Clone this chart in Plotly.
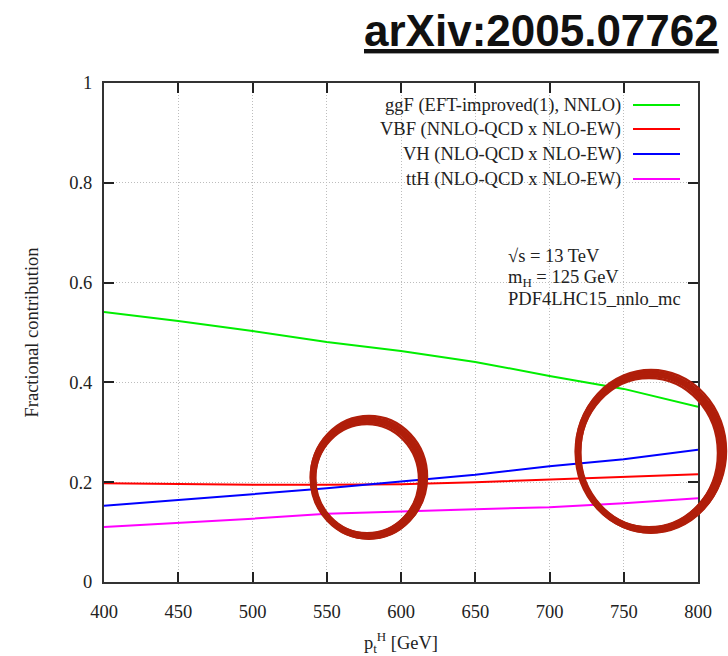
import plotly.graph_objects as go

# Transverse momentum of the Higgs boson [GeV]
pt = [400, 450, 500, 550, 600, 650, 700, 750, 800]

# Fractional contribution of each production mode
ggf = [0.541, 0.523, 0.503, 0.481, 0.463, 0.441, 0.413, 0.387, 0.351]
vbf = [0.198, 0.196, 0.195, 0.195, 0.196, 0.200, 0.205, 0.210, 0.216]
vh = [0.153, 0.164, 0.176, 0.188, 0.202, 0.215, 0.232, 0.246, 0.265]
tth = [0.110, 0.118, 0.127, 0.137, 0.142, 0.146, 0.150, 0.158, 0.168]

names = [
    "ggF (EFT-improved(1), NNLO)",
    "VBF (NNLO-QCD x NLO-EW)",
    "VH (NLO-QCD x NLO-EW)",
    "ttH (NLO-QCD x NLO-EW)",
]
series = [ggf, vbf, vh, tth]
colors = ["#00ee00", "#ff0000", "#0000ff", "#ff00ff"]

x_ticks = [400, 450, 500, 550, 600, 650, 700, 750, 800]
y_ticks = [0, 0.2, 0.4, 0.6, 0.8, 1]
y_ticktext = ["0", "0.2", "0.4", "0.6", "0.8", "1"]

SERIF = "Liberation Serif"
FS = 18.5
INK = "#222"

# Plot-area geometry in pixels (used for paper-coordinate decorations)
W, H = 728, 656
L, R, T, B = 104, 30, 83, 74
PW, PH = W - L - R, H - T - B


def px(x):
    return (x - L) / PW


def py(y):
    return (H - B - y) / PH


fig = go.Figure()
for name, ys, c in zip(names, series, colors):
    fig.add_trace(go.Scatter(x=pt, y=ys, mode="lines", name=name,
                             line=dict(color=c, width=2), showlegend=False))

shapes = []
annotations = []

# gnuplot-style key: right-aligned text followed by a line sample
key_rows = [105, 129, 154, 179]
for name, c, yr in zip(names, colors, key_rows):
    annotations.append(dict(x=px(623), y=py(yr), xref="paper", yref="paper",
                            text=name, showarrow=False, xanchor="right",
                            yanchor="middle",
                            font=dict(family=SERIF, size=FS, color=INK)))
    shapes.append(dict(type="line", xref="paper", yref="paper",
                       x0=px(633), x1=px(680), y0=py(yr), y1=py(yr),
                       line=dict(color=c, width=2)))

# Run conditions
info = ["√s = 13 TeV", "m<sub>H</sub> = 125 GeV", "PDF4LHC15_nnlo_mc"]
for txt, yr in zip(info, [256, 278, 299]):
    annotations.append(dict(x=px(506), y=py(yr), xref="paper", yref="paper",
                            text=txt, showarrow=False, xanchor="left",
                            yanchor="middle",
                            font=dict(family=SERIF, size=FS, color=INK)))

# arXiv reference
annotations.append(dict(x=px(721), y=py(31), xref="paper", yref="paper",
                        text="<b><u>arXiv:2005.07762</u></b>", showarrow=False,
                        xanchor="right", yanchor="middle",
                        font=dict(family="Liberation Sans", size=44,
                                  color="#111")))

# Hand-drawn highlight rings (several slightly offset strokes)
ring = "#b01e0a"
strokes = [(0, 0, 0, 7), (1, -1, 3, 2.5), (-1, 1, -3, 2.5),
           (1, 1, 2, 2), (-1, -1, -2, 2)]
for (cx, cy, rx, ry) in [(368, 478, 55, 58), (650, 452, 72, 78)]:
    for dx, dy, dr, w in strokes:
        shapes.append(dict(type="circle", xref="paper", yref="paper",
                           x0=px(cx + dx - rx - dr), x1=px(cx + dx + rx + dr),
                           y0=py(cy + dy + ry + dr), y1=py(cy + dy - ry - dr),
                           line=dict(color=ring, width=w), layer="above"))

fig.update_layout(
    width=W, height=H,
    margin=dict(l=L, r=R, t=T, b=B),
    paper_bgcolor="white", plot_bgcolor="white",
    shapes=shapes, annotations=annotations,
    font=dict(family=SERIF, size=FS, color=INK),
)

axis_common = dict(showline=True, linecolor="#333", linewidth=2,
                   mirror="allticks", ticks="inside", ticklen=10,
                   tickcolor="#222", tickwidth=1.5,
                   showgrid=True, gridcolor="#bdbdbd", griddash="1px,2px",
                   gridwidth=1, zeroline=False, automargin=False,
                   tickfont=dict(family=SERIF, size=FS, color=INK))

fig.update_xaxes(range=[400, 800], tickvals=x_ticks, ticklabelstandoff=12,
                 title=dict(text="p<sub>t</sub><sup>H</sup> [GeV]",
                            font=dict(family=SERIF, size=FS), standoff=22),
                 **axis_common)
fig.update_yaxes(range=[0, 1], tickvals=y_ticks, ticktext=y_ticktext,
                 ticklabelstandoff=6,
                 title=dict(text="Fractional contribution",
                            font=dict(family=SERIF, size=FS), standoff=26),
                 **axis_common)

fig.write_html("out.html")
